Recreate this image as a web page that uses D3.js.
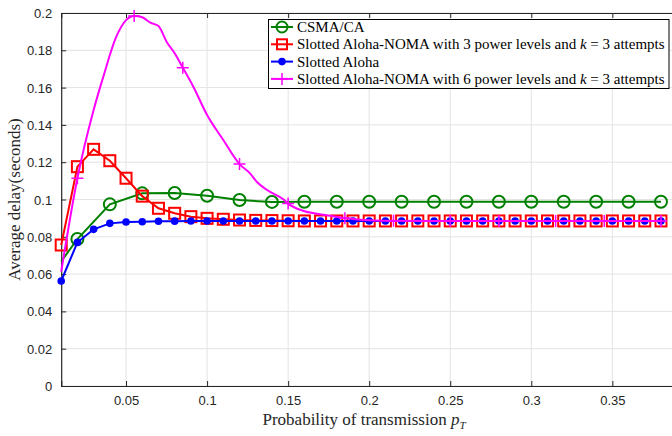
<html>
<head>
<script src="https://d3js.org/d3.v7.min.js"></script>
<style>
  body { margin: 0; background: #fff; }
  .tick text { font-family: "Liberation Sans", Arial, sans-serif; font-size: 13px; fill: #262626; }
  .lbl { font-family: "Liberation Serif", "Times New Roman", serif; fill: #262626; }
  .leg { font-family: "Liberation Serif", "Times New Roman", serif; font-size: 15px; fill: #000; }
</style>
</head>
<body>
<svg id="chart" width="672" height="436"></svg>
<script>
// Slotted Aloha (blue), every 0.01
var xStep = [0.01,0.02,0.03,0.04,0.05,0.06,0.07,0.08,0.09,0.10,0.11,0.12,0.13,0.14,0.15,0.16,0.17,0.18,0.19,0.20,
             0.21,0.22,0.23,0.24,0.25,0.26,0.27,0.28,0.29,0.30,0.31,0.32,0.33,0.34,0.35,0.36,0.37,0.38];
var alohaY = [0.0563,0.0770,0.0840,0.0872,0.0879,0.0881,0.0883,0.0884,0.0885,0.0885,0.0885,0.0885,0.0885,0.0885,0.0885,
              0.0885,0.0885,0.0885,0.0885,0.0885,0.0885,0.0885,0.0885,0.0885,0.0885,0.0885,0.0885,0.0885,0.0885,0.0885,
              0.0885,0.0885,0.0885,0.0885,0.0885,0.0885,0.0885,0.0885];
// Slotted Aloha-NOMA, 3 power levels (red)
var noma3Y = [0.0756,0.1176,0.1269,0.1208,0.1114,0.1018,0.0953,0.0926,0.0908,0.0899,0.0894,0.0890,0.0888,0.0887,0.0886,
              0.0885,0.0885,0.0885,0.0885,0.0885,0.0885,0.0885,0.0885,0.0885,0.0885,0.0885,0.0885,0.0885,0.0885,0.0885,
              0.0885,0.0885,0.0885,0.0885,0.0885,0.0885,0.0885,0.0885];
// CSMA/CA (green), first point has no marker
var csmaX = [0.01,0.02,0.04,0.06,0.08,0.10,0.12,0.14,0.16,0.18,0.20,0.22,0.24,0.26,0.28,0.30,0.32,0.34,0.36,0.38];
var csmaY = [0.0668,0.0788,0.0974,0.1033,0.1035,0.1020,0.0997,0.0987,0.0988,0.0988,0.0988,0.0988,0.0988,0.0988,0.0988,
             0.0988,0.0988,0.0988,0.0988,0.0988];
// Slotted Aloha-NOMA, 6 power levels (magenta)
var noma6X = [0.01,0.02,0.03,0.036,0.044,0.05,0.055,0.06,0.065,0.07,0.075,0.08,0.085,0.0915,0.10,0.11,0.12,0.1265,
              0.1306,0.137,0.147,0.15,0.159,0.167,0.176,0.186,0.196,0.21,0.25,0.30,0.35,0.38];
var noma6Y = [0.0613,0.1114,0.1480,0.1659,0.1873,0.1962,0.1984,0.1977,0.1948,0.1930,0.1846,0.1784,0.1707,0.1605,0.1453,
              0.1319,0.1190,0.1140,0.1095,0.1051,0.1001,0.0978,0.0940,0.0925,0.0913,0.0899,0.0890,0.0886,0.0885,0.0885,
              0.0885,0.0885];
var noma6MarkX = [0.02,0.055,0.085,0.12,0.15,0.185,0.215,0.25,0.28,0.315,0.345,0.38];
var noma6MarkY = [0.1114,0.1984,0.1707,0.1190,0.0978,0.0900,0.0886,0.0885,0.0885,0.0885,0.0885,0.0885];

var yTicks = [0,0.02,0.04,0.06,0.08,0.1,0.12,0.14,0.16,0.18,0.2];
var xTicks = [0.05,0.1,0.15,0.2,0.25,0.3,0.35];
var legendLabels = ["CSMA/CA",
  "Slotted Aloha-NOMA with 3 power levels and |k| = 3 attempts",
  "Slotted Aloha",
  "Slotted Aloha-NOMA with 6 power levels and |k| = 3 attempts"];

var svg = d3.select("#chart");
var x = d3.scaleLinear().domain([0.01, 0.4]).range([61.2, 693.4]);
var y = d3.scaleLinear().domain([0, 0.2]).range([386, 13]);
var axisCol = "#262626";

// grid
svg.append("g").selectAll("line").data(yTicks).enter().append("line")
  .attr("x1", x(0.01)).attr("x2", 672).attr("y1", d => y(d)).attr("y2", d => y(d))
  .attr("stroke", "#e3e3e3").attr("stroke-width", 1);
svg.append("g").selectAll("line").data(xTicks).enter().append("line")
  .attr("x1", d => x(d)).attr("x2", d => x(d)).attr("y1", y(0)).attr("y2", y(0.2))
  .attr("stroke", "#e3e3e3").attr("stroke-width", 1);

// axes
var gy = svg.append("g").attr("transform", "translate(" + x(0.01) + ",0)")
  .call(d3.axisLeft(y).tickValues(yTicks).tickSize(-5).tickPadding(9).tickFormat(d => d3.format("")(+d.toFixed(2))));
var gx = svg.append("g").attr("transform", "translate(0," + y(0) + ")")
  .call(d3.axisBottom(x).tickValues(xTicks).tickSize(-5).tickPadding(10).tickFormat(d => d3.format("")(+d.toFixed(2))));
var gt = svg.append("g").attr("transform", "translate(0," + y(0.2) + ")")
  .call(d3.axisTop(x).tickValues(xTicks).tickSize(-5).tickFormat(""));
[gy, gx, gt].forEach(function(g) {
  g.select(".domain").attr("stroke", axisCol).attr("stroke-width", 1.2);
  g.selectAll(".tick line").attr("stroke", axisCol);
});
gy.selectAll(".tick text").attr("dy", "0.35em");

// axis labels
svg.append("text").attr("class", "lbl").attr("font-size", 17)
  .attr("transform", "translate(20," + y(0.1) + ") rotate(-90)")
  .attr("text-anchor", "middle").text("Average delay(seconds)");
var xl = svg.append("text").attr("class", "lbl").attr("font-size", 17)
  .attr("x", 364).attr("y", 425).attr("text-anchor", "middle");
xl.append("tspan").text("Probability of transmission ");
xl.append("tspan").attr("font-style", "italic").text("p");
xl.append("tspan").attr("font-style", "italic").attr("font-size", 11).attr("dy", 4).text("T");

var line = d3.line().x(d => x(d[0])).y(d => y(d[1]));
var green = "#008000", red = "#ff0000", blue = "#0000ff", mag = "#ff00ff";

// CSMA/CA
var csma = csmaX.map((v, i) => [v, csmaY[i]]);
svg.append("path").attr("d", line(csma)).attr("fill", "none").attr("stroke", green).attr("stroke-width", 2);
svg.append("g").selectAll("circle").data(csma.slice(1)).enter().append("circle")
  .attr("cx", d => x(d[0])).attr("cy", d => y(d[1])).attr("r", 6)
  .attr("fill", "none").attr("stroke", green).attr("stroke-width", 2);

// NOMA 3 levels
var n3 = xStep.map((v, i) => [v, noma3Y[i]]);
svg.append("path").attr("d", line(n3)).attr("fill", "none").attr("stroke", red).attr("stroke-width", 2);
svg.append("g").selectAll("rect").data(n3).enter().append("rect")
  .attr("x", d => x(d[0]) - 5.5).attr("y", d => y(d[1]) - 5.5).attr("width", 11).attr("height", 11)
  .attr("fill", "none").attr("stroke", red).attr("stroke-width", 2);

// Slotted Aloha
var al = xStep.map((v, i) => [v, alohaY[i]]);
svg.append("path").attr("d", line(al)).attr("fill", "none").attr("stroke", blue).attr("stroke-width", 2);
svg.append("g").selectAll("circle").data(al).enter().append("circle")
  .attr("cx", d => x(d[0])).attr("cy", d => y(d[1])).attr("r", 3.8).attr("fill", blue);

// NOMA 6 levels
var n6 = noma6X.map((v, i) => [v, noma6Y[i]]);
svg.append("path").attr("d", d3.line().curve(d3.curveMonotoneX).x(d => x(d[0])).y(d => y(d[1]))(n6))
  .attr("fill", "none").attr("stroke", mag).attr("stroke-width", 2);
var n6m = noma6MarkX.map((v, i) => [v, noma6MarkY[i]]);
svg.append("g").selectAll("path").data(n6m).enter().append("path")
  .attr("d", d => { var cx = x(d[0]), cy = y(d[1]); return "M" + (cx - 6) + "," + cy + "H" + (cx + 6) + "M" + cx + "," + (cy - 6) + "V" + (cy + 6); })
  .attr("stroke", mag).attr("stroke-width", 1.5);

// legend
var lg = svg.append("g");
lg.append("rect").attr("x", 268.5).attr("y", 19.5).attr("width", 400.5).attr("height", 69)
  .attr("fill", "#fff").attr("stroke", "#000").attr("stroke-width", 1);
var cols = [green, red, blue, mag];
legendLabels.forEach(function(lab, i) {
  var cy = 27 + i * 17.3;
  lg.append("line").attr("x1", 271).attr("x2", 293).attr("y1", cy).attr("y2", cy)
    .attr("stroke", cols[i]).attr("stroke-width", 2);
  if (i === 0) lg.append("circle").attr("cx", 282).attr("cy", cy).attr("r", 5.5).attr("fill", "none").attr("stroke", green).attr("stroke-width", 2);
  if (i === 1) lg.append("rect").attr("x", 277).attr("y", cy - 5).attr("width", 10).attr("height", 10).attr("fill", "none").attr("stroke", red).attr("stroke-width", 2);
  if (i === 2) lg.append("circle").attr("cx", 282).attr("cy", cy).attr("r", 3.8).attr("fill", blue);
  if (i === 3) lg.append("path").attr("d", "M276," + cy + "H288M282," + (cy - 6) + "V" + (cy + 6)).attr("stroke", mag).attr("stroke-width", 1.5);
  var t = lg.append("text").attr("class", "leg").attr("x", 297).attr("y", cy + 5);
  lab.split("|").forEach(function(part, j) {
    var s = t.append("tspan").text(part);
    if (j === 1) s.attr("font-style", "italic");
  });
});
</script>
</body>
</html>
